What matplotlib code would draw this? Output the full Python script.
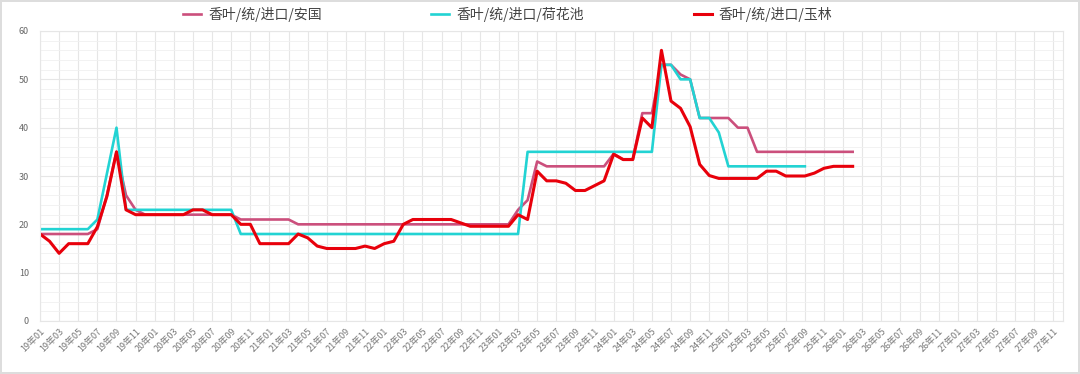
import numpy as np
import matplotlib
matplotlib.use("Agg")
import matplotlib.pyplot as plt
from matplotlib.ticker import MultipleLocator

plt.rcParams['font.family'] = ['Noto Sans CJK SC', 'DejaVu Sans']

# month labels 19年01 .. 27年12
months = [f"{y:02d}年{m:02d}" for y in range(19, 28) for m in range(1, 13)]

# 香叶/统/进口/安国
anguo = [18, 18, 18, 18, 18, 18, 19, 26, 35, 26, 23, 22, 22, 22, 22, 22, 22, 22, 22, 22,
         22, 21, 21, 21, 21, 21, 21, 20, 20, 20, 20, 20, 20, 20, 20, 20, 20, 20, 20, 20,
         20, 20, 20, 20, 20, 20, 20, 20, 20, 20, 23, 25, 33, 32, 32, 32, 32, 32, 32, 32,
         34.6, 33.4, 33.4, 43, 43, 53, 53, 51, 50, 42, 42, 42, 42, 40, 40, 35, 35, 35, 35, 35,
         35, 35, 35, 35, 35, 35]
# 香叶/统/进口/荷花池
hehuachi = [19, 19, 19, 19, 19, 19, 21, 30.5, 40, 23, 23, 23, 23, 23, 23, 23, 23, 23, 23, 23,
            23, 18, 18, 18, 18, 18, 18, 18, 18, 18, 18, 18, 18, 18, 18, 18, 18, 18, 18, 18,
            18, 18, 18, 18, 18, 18, 18, 18, 18, 18, 18, 35, 35, 35, 35, 35, 35, 35, 35, 35,
            35, 35, 35, 35, 35, 53, 53, 50, 50, 42, 42, 39, 32, 32, 32, 32, 32, 32, 32, 32, 32]
# 香叶/统/进口/玉林
yulin = [18, 16.5, 14, 16, 16, 16, 19.5, 25.8, 35, 23, 22, 22, 22, 22, 22, 22, 23, 23, 22, 22,
         22, 20, 20, 16, 16, 16, 16, 18, 17.2, 15.5, 15, 15, 15, 15, 15.5, 15, 16, 16.5, 20, 21,
         21, 21, 21, 21, 20.3, 19.6, 19.6, 19.6, 19.6, 19.6, 22, 21, 31, 29, 29, 28.5, 27, 27, 28, 29,
         34.5, 33.4, 33.4, 42, 40, 56, 45.5, 44, 40.2, 32.4, 30.1, 29.5, 29.5, 29.5, 29.5, 29.5,
         31, 31, 30, 30, 30, 30.6, 31.6, 32, 32, 32]

fig = plt.figure(figsize=(10.8, 3.74), dpi=100)
fig.patch.set_edgecolor('#dddddd')
fig.patch.set_linewidth(1.5)
ax = fig.add_axes([40/1080, 1-321/374, (1063-40)/1080, (321-31)/374])

x = np.arange(len(months))
ax.plot(x[:len(anguo)], anguo, color='#CB4F7C', lw=1.9, label='香叶/统/进口/安国')
ax.plot(x[:len(hehuachi)], hehuachi, color='#22D3D3', lw=1.9, label='香叶/统/进口/荷花池')
ax.plot(x[:len(yulin)], yulin, color='#E8000B', lw=2.2, label='香叶/统/进口/玉林')

ax.set_xlim(0, len(months) - 1)
ax.set_ylim(0, 60)
ax.set_xticks(x[::2])
ax.set_xticklabels(months[::2], rotation=45, ha='right', rotation_mode='anchor',
                   fontsize=6.5, color='#777777')
ax.yaxis.set_major_locator(MultipleLocator(10))
ax.yaxis.set_minor_locator(MultipleLocator(2))
ax.tick_params(axis='y', labelsize=6.5, labelcolor='#666666', length=0, which='both', pad=8)
ax.tick_params(axis='x', length=0, pad=4)
ax.grid(True, which='major', color='#e6e6e6', lw=0.8)
ax.grid(True, which='minor', axis='y', color='#f0f0f0', lw=0.6)
for s in ax.spines.values():
    s.set_color('#e6e6e6')
    s.set_linewidth(0.8)

fig.legend(loc='upper center', bbox_to_anchor=(0.47, 1.015), ncol=3, frameon=False,
           fontsize=10, handlelength=1.3, columnspacing=7.9, handletextpad=0.5,
           labelcolor='#444444')

fig.savefig('out.png', dpi=100)
